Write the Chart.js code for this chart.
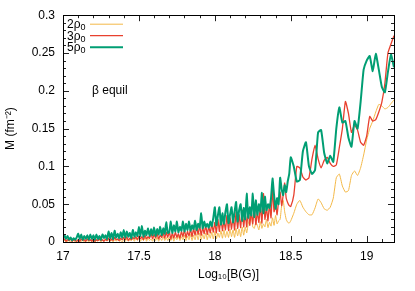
<!DOCTYPE html>
<html><head><meta charset="utf-8">
<script src="https://cdn.jsdelivr.net/npm/chart.js@4/dist/chart.umd.min.js"></script>
<style>html,body{margin:0;padding:0;background:#fff;}canvas{display:block;}</style>
</head><body>
<canvas id="c" width="415" height="291"></canvas>
<script>
// x grid: Log10[B(G)]
const xs = [
17.00,17.01,17.02,17.03,17.04,17.05,17.06,17.07,17.08,17.09,
17.10,17.11,17.12,17.13,17.14,17.15,17.16,17.17,17.18,17.19,
17.20,17.21,17.22,17.23,17.24,17.25,17.26,17.27,17.28,17.29,
17.30,17.31,17.32,17.33,17.34,17.35,17.36,17.37,17.38,17.39,
17.40,17.41,17.42,17.43,17.44,17.45,17.46,17.47,17.48,17.49,
17.50,17.51,17.52,17.53,17.54,17.55,17.56,17.57,17.58,17.59,
17.60,17.61,17.62,17.63,17.64,17.65,17.66,17.67,17.68,17.69,
17.70,17.71,17.72,17.73,17.74,17.75,17.76,17.77,17.78,17.79,
17.80,17.81,17.82,17.83,17.84,17.85,17.86,17.87,17.88,17.89,
17.90,17.91,17.92,17.93,17.94,17.95,17.96,17.97,17.98,17.99,
18.00,18.01,18.02,18.03,18.04,18.05,18.06,18.07,18.08,18.09,
18.10,18.11,18.12,18.13,18.14,18.15,18.16,18.17,18.18,18.19,
18.20,18.21,18.22,18.23,18.24,18.25,18.26,18.27,18.28,18.29,
18.30,18.31,18.32,18.33,18.34,18.35,18.36,18.37,18.38,18.39,
18.40,18.41,18.42,18.43,18.44,18.45,18.46,18.47,18.48,18.49,18.50,
18.52,18.54,18.56,18.58,18.60,18.62,18.64,18.66,18.68,18.70,
18.72,18.74,18.76,18.78,18.80,18.82,18.84,18.86,18.88,18.90,
18.92,18.94,18.96,18.98,19.00,19.02,19.04,19.06,19.08,19.10,
19.12,19.14,19.16,19.18
];
// M (fm^-2), 2 rho0
const rho2 = [
.001,.002,.000,.001,.002,.000,.001,.002,.000,.001,
.002,.000,.001,.002,.000,.001,.002,.000,.002,.001,
.002,.000,.002,.001,.003,.000,.002,.001,.003,.001,
.003,.001,.002,.000,.003,.001,.003,.001,.002,.000,
.003,.001,.004,.001,.003,.002,.004,.001,.005,.002,
.005,.001,.004,.002,.006,.001,.005,.002,.004,.001,
.005,.002,.006,.001,.005,.002,.007,.002,.006,.002,
.006,.002,.007,.001,.006,.003,.008,.002,.007,.003,
.009,.002,.008,.003,.010,.002,.009,.003,.011,.003,
.012,.003,.010,.004,.012,.003,.011,.005,.013,.004,
.014,.004,.012,.006,.015,.005,.016,.006,.014,.006,
.017,.007,.016,.006,.018,.008,.017,.007,.020,.009,
.020,.012,.024,.030,.036,.020,.018,.026,.022,.016,
.027,.018,.024,.020,.030,.019,.026,.021,.032,.022,
.035,.024,.028,.030,.048,.055,.040,.030,.026,.025,.028,
.038,.050,.055,.046,.040,.036,.036,.045,.057,.052,
.044,.042,.046,.058,.085,.090,.074,.066,.068,.088,
.094,.088,.098,.115,.135,.150,.160,.172,.182,.180,
.176,.178,.183,.188
];
// 3 rho0
const rho3 = [
.002,.004,.001,.003,.002,.004,.001,.003,.002,.001,
.003,.001,.004,.002,.003,.001,.004,.002,.003,.001,
.004,.001,.003,.002,.004,.002,.003,.001,.004,.002,
.005,.002,.004,.002,.006,.003,.004,.002,.005,.003,
.006,.003,.007,.002,.005,.003,.006,.004,.007,.003,
.008,.004,.007,.003,.009,.004,.007,.005,.011,.004,
.010,.005,.011,.004,.009,.006,.012,.005,.013,.006,
.014,.004,.012,.005,.013,.006,.011,.005,.014,.007,
.016,.006,.014,.008,.017,.007,.018,.009,.020,.010,
.022,.009,.019,.011,.022,.010,.020,.012,.024,.013,
.026,.012,.030,.014,.033,.015,.028,.016,.035,.015,
.032,.017,.034,.016,.040,.018,.036,.019,.042,.020,
.038,.020,.044,.022,.040,.024,.046,.023,.040,.026,
.048,.025,.064,.030,.046,.028,.050,.032,.070,.040,
.050,.036,.055,.066,.048,.062,.078,.058,.052,.048,.047,
.062,.100,.098,.086,.082,.085,.110,.128,.110,.098,
.108,.112,.104,.100,.102,.125,.150,.186,.170,.145,
.155,.148,.132,.128,.140,.166,.160,.162,.172,.185,
.210,.250,.262,.273
];
// 5 rho0
const rho5 = [
.005,.009,.004,.008,.003,.006,.002,.005,.003,.006,
.011,.004,.010,.003,.008,.004,.009,.003,.010,.004,
.009,.003,.010,.004,.008,.003,.010,.005,.009,.004,
.014,.005,.012,.004,.015,.006,.011,.005,.013,.006,
.016,.006,.014,.007,.012,.005,.016,.007,.013,.008,
.020,.008,.021,.007,.015,.009,.018,.008,.017,.009,
.019,.008,.017,.010,.020,.009,.018,.011,.026,.012,
.013,.027,.012,.022,.014,.027,.013,.020,.015,.027,
.014,.024,.016,.027,.015,.022,.017,.028,.016,.024,
.019,.038,.018,.027,.020,.024,.019,.027,.021,.032,
.046,.022,.035,.046,.023,.038,.024,.040,.050,.025,
.036,.046,.026,.040,.053,.027,.042,.050,.028,.045,
.030,.064,.032,.046,.035,.064,.033,.055,.036,.050,
.040,.065,.038,.060,.042,.050,.045,.058,.084,.062,
.044,.058,.050,.085,.070,.062,.075,.066,.080,.090,.112,
.100,.080,.082,.120,.132,.100,.090,.095,.145,.148,
.118,.104,.114,.106,.150,.178,.158,.160,.138,.126,
.160,.150,.185,.228,.240,.246,.226,.249,.228,.205,
.198,.225,.248,.231
];
const seriesNames = ['2ρ', '3ρ', '5ρ'];
const seriesColors = ['#f3b847', '#e8402e', '#009e73'];
const xTickValues = [17, 17.5, 18, 18.5, 19];
const yTickValues = [0, 0.05, 0.1, 0.15, 0.2, 0.25, 0.3];

const FONT = '"Liberation Sans", Arial, sans-serif';
const pts = ys => xs.map((x, i) => ({x: x, y: ys[i]}));

const frame = {
  id: 'frame',
  afterDatasetsDraw(chart) {
    const {ctx, chartArea: a, scales: {x, y}} = chart;
    ctx.save();
    ctx.strokeStyle = '#222';
    ctx.lineWidth = 1;
    ctx.beginPath();
    for (let k = 0; k <= 21; k++) {
      const v = 17 + k * 0.1;
      const px = Math.round(x.getPixelForValue(v)) + 0.5;
      const major = (k % 5 === 0);
      const L = major ? 6 : 3;
      ctx.moveTo(px, a.bottom); ctx.lineTo(px, a.bottom - L);
      ctx.moveTo(px, a.top); ctx.lineTo(px, a.top + L);
    }
    for (let k = 0; k <= 30; k++) {
      const v = k * 0.01;
      const py = Math.round(y.getPixelForValue(v)) + 0.5;
      const major = (k % 5 === 0);
      const L = major ? 6 : 3;
      ctx.moveTo(a.left, py); ctx.lineTo(a.left + L, py);
      ctx.moveTo(a.right, py); ctx.lineTo(a.right - L, py);
    }
    ctx.stroke();
    ctx.strokeStyle = '#000';
    ctx.strokeRect(Math.round(a.left) + 0.5, Math.round(a.top) + 0.5,
                   Math.round(a.right - a.left), Math.round(a.bottom - a.top));
    // key
    ctx.fillStyle = '#000';
    ctx.textBaseline = 'alphabetic';
    for (let i = 0; i < 3; i++) {
      const ty = a.top + 13 + i * 11.5;
      ctx.font = '12px ' + FONT;
      ctx.textAlign = 'left';
      ctx.fillText(seriesNames[i], a.left + 4, ty);
      const w = ctx.measureText(seriesNames[i]).width;
      ctx.font = '9px ' + FONT;
      ctx.fillText('0', a.left + 4 + w, ty + 2);
      ctx.strokeStyle = seriesColors[i];
      ctx.lineWidth = i === 2 ? 2 : (i === 1 ? 1.3 : 1);
      ctx.beginPath();
      ctx.moveTo(a.left + 27, ty - 4); ctx.lineTo(a.left + 60, ty - 4);
      ctx.stroke();
    }
    ctx.font = '12px ' + FONT;
    ctx.fillStyle = '#000';
    ctx.fillText('β equil', a.left + 29, a.top + 79);
    ctx.restore();
  }
};

new Chart(document.getElementById('c'), {
  type: 'line',
  data: {
    datasets: [
      {label: '2ρ0', data: pts(rho2), borderColor: seriesColors[0], borderWidth: 1, order: 3},
      {label: '3ρ0', data: pts(rho3), borderColor: seriesColors[1], borderWidth: 1.3, order: 2},
      {label: '5ρ0', data: pts(rho5), borderColor: seriesColors[2], borderWidth: 2, order: 1}
    ]
  },
  options: {
    responsive: false,
    animation: false,
    devicePixelRatio: 1,
    parsing: false,
    elements: {point: {radius: 0}, line: {tension: 0.15, borderJoinStyle: 'round'}},
    layout: {padding: {left: 0, top: 14, right: 21, bottom: 0}},
    plugins: {legend: {display: false}, tooltip: {enabled: false}},
    scales: {
      x: {
        type: 'linear', min: 17, max: 19.18,
        grid: {display: false, drawTicks: false},
        border: {display: false},
        afterBuildTicks: s => { s.ticks = xTickValues.map(v => ({value: v})); },
        afterFit: s => { s.height = 49; },
        ticks: {font: {family: FONT, size: 12}, color: '#000', padding: 7, maxRotation: 0,
                callback: v => String(+v.toFixed(2))},
        title: {display: true, text: 'Log₁₀[B(G)]', font: {family: FONT, size: 12}, color: '#000', padding: {top: 2, bottom: 9}}
      },
      y: {
        type: 'linear', min: 0, max: 0.3,
        grid: {display: false, drawTicks: false},
        border: {display: false},
        afterBuildTicks: s => { s.ticks = yTickValues.map(v => ({value: v})); },
        afterFit: s => { s.width = 63; },
        ticks: {font: {family: FONT, size: 12}, color: '#000', padding: 8,
                callback: v => String(+v.toFixed(2))},
        title: {display: true, text: 'M (fm⁻²)', font: {family: FONT, size: 12}, color: '#000', padding: {top: 3, bottom: 4}}
      }
    }
  },
  plugins: [frame]
});
</script>
</body></html>
